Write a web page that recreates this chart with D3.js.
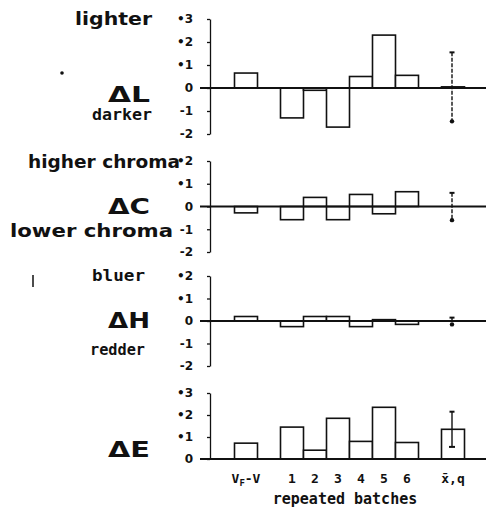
<!DOCTYPE html>
<html><head><meta charset="utf-8">
<script src="https://cdn.jsdelivr.net/npm/d3@7"></script>
<style>
html,body{margin:0;padding:0;background:#fff;}
svg{display:block;}
</style></head>
<body>
<svg id="chart" width="486" height="512"></svg>
<script>
// ---- data ----
const categories = ["VF-V","1","2","3","4","5","6","x̄,q"];
const deltaL = [0.65,-1.3,-0.1,-1.7,0.5,2.3,0.55,0.05];
const deltaC = [-0.28,-0.58,0.4,-0.58,0.53,-0.32,0.65,0.0];
const deltaH = [0.2,-0.25,0.2,0.2,-0.25,0.06,-0.15,0.0];
const deltaE = [0.72,1.45,0.4,1.85,0.8,2.35,0.75,1.35];
const spreadQ = [1.5,0.6,0.15,0.8];          // q of the mean (last category)
const ticksL = [3,2,1,0,-1,-2];
const ticksC = [2,1,0,-1,-2];
const ticksH = [2,1,0,-1,-2];
const ticksE = [3,2,1,0];
const panelNames = ["ΔL","ΔC","ΔH","ΔE"];
const upperLabels = ["lighter","higher chroma","bluer",""];
const lowerLabels = ["darker","lower chroma","redder",""];
const xTitle = "repeated batches";

// ---- layout ----
const svg = d3.select("#chart");
const axisX = 210;
const ink = "#111";
const slots = [categories[0],"_s1",...categories.slice(1,7),"_s2",categories[7]];
const x = d3.scaleBand().domain(slots).range([234.5,464.5]).padding(0);

const panels = [
  {name:panelNames[0], vals:deltaL, ticks:ticksL, dom:[-2,3], rng:[134,19], q:spreadQ[0], up:upperLabels[0], low:lowerLabels[0], nameY:102, upY:25, lowY:120, upX:152, lowX:152, upFont:"hand", lowFont:"mono", upW:77, lowW:60, capBottom:false},
  {name:panelNames[1], vals:deltaC, ticks:ticksC, dom:[-2,2], rng:[252,161], q:spreadQ[1], up:upperLabels[1], low:lowerLabels[1], nameY:214, upY:168, lowY:237, upX:180, lowX:173, upFont:"hand", lowFont:"hand", upW:152, lowW:163, capBottom:false},
  {name:panelNames[2], vals:deltaH, ticks:ticksH, dom:[-2,2], rng:[366,276], q:spreadQ[2], up:upperLabels[2], low:lowerLabels[2], nameY:328, upY:281, lowY:355, upX:145, lowX:145, upFont:"mono", lowFont:"mono", upW:53, lowW:55, capBottom:false},
  {name:panelNames[3], vals:deltaE, ticks:ticksE, dom:[0,3], rng:[459,393], q:spreadQ[3], up:"", low:"", nameY:457, capBottom:true}
];

const fmt = v => v === 0 ? "0" : (v > 0 ? "•" + v : "-" + Math.abs(v));

panels.forEach((p, pi) => {
  const y = d3.scaleLinear().domain(p.dom).range(p.rng);
  const g = svg.append("g");

  const ax = g.append("g").attr("transform", `translate(${axisX},0)`)
    .call(d3.axisLeft(y).tickValues(p.ticks).tickFormat(fmt).tickSize(3).tickSizeOuter(0));
  ax.select(".domain").attr("stroke", ink).attr("stroke-width", 1.3);
  ax.selectAll(".tick line").attr("stroke", ink).attr("stroke-width", 1.3);
  ax.selectAll(".tick text").attr("x", -17).attr("fill", ink)
    .attr("font-family", "DejaVu Sans, sans-serif").attr("font-weight", "bold").attr("font-size", 12);

  g.selectAll("rect.bar").data(p.vals).join("rect").attr("class","bar")
    .attr("x", (d,i) => x(categories[i]))
    .attr("width", x.bandwidth())
    .attr("y", d => y(Math.max(0,d)))
    .attr("height", d => Math.abs(y(d) - y(0)))
    .attr("fill", "#fff").attr("stroke", ink).attr("stroke-width", 1.6);

  g.append("line").attr("x1", 200).attr("x2", 486).attr("y1", y(0)).attr("y2", y(0))
    .attr("stroke", ink).attr("stroke-width", 2);

  const m = p.vals[p.vals.length-1];
  const cx = x(categories[categories.length-1]) + x.bandwidth()/2 - 1;
  g.append("line").attr("x1", cx).attr("x2", cx).attr("y1", y(m + p.q)).attr("y2", y(m - p.q))
    .attr("stroke", ink).attr("stroke-width", 1.4).attr("stroke-dasharray", pi===3 ? null : "4,1.5");
  g.append("line").attr("x1", cx-2.5).attr("x2", cx+2.5).attr("y1", y(m + p.q)).attr("y2", y(m + p.q))
    .attr("stroke", ink).attr("stroke-width", 2);
  if (p.capBottom) {
    g.append("line").attr("x1", cx-3).attr("x2", cx+3).attr("y1", y(m - p.q)).attr("y2", y(m - p.q))
      .attr("stroke", ink).attr("stroke-width", 2);
  } else {
    g.append("circle").attr("cx", cx).attr("cy", y(m - p.q)).attr("r", 2.2).attr("fill", ink);
  }

  g.append("text").attr("x", 129).attr("y", p.nameY).attr("text-anchor","middle")
    .attr("font-family","DejaVu Sans, sans-serif").attr("font-weight","bold").attr("font-size", 22)
    .attr("textLength", 42).attr("lengthAdjust","spacingAndGlyphs").attr("fill", ink).text(p.name);

  const fam = f => f === "mono" ? "DejaVu Sans Mono, monospace" : "DejaVu Sans, sans-serif";
  const lab = (txt, xx, yy, f, w) => g.append("text").attr("x", xx - w).attr("y", yy)
    .attr("font-family", fam(f)).attr("font-weight","bold")
    .attr("font-size", f==="mono" ? 15 : 17).attr("fill", ink)
    .attr("textLength", w).attr("lengthAdjust","spacingAndGlyphs").text(txt);
  if (p.up) lab(p.up, p.upX, p.upY, p.upFont, p.upW);
  if (p.low) lab(p.low, p.lowX, p.lowY, p.lowFont, p.lowW);

  if (pi === 3) {
    const xl = svg.append("g").attr("font-family","DejaVu Sans Mono, monospace")
      .attr("font-weight","bold").attr("font-size", 13).attr("fill", ink);
    categories.forEach((c,i) => {
      const t = xl.append("text").attr("x", x(c) + x.bandwidth()/2).attr("y", 483).attr("text-anchor","middle");
      if (c === "VF-V") {
        t.append("tspan").text("V");
        t.append("tspan").attr("font-size", 9).attr("dy", 3).text("F");
        t.append("tspan").attr("dy", -3).text("-V");
      } else t.text(c);
    });
    xl.append("text").attr("x", 345).attr("y", 504).attr("text-anchor","middle")
      .attr("font-size", 15).text(xTitle);
  }
});

svg.append("circle").attr("cx", 62).attr("cy", 73).attr("r", 1.8).attr("fill", ink);
svg.append("line").attr("x1", 33).attr("x2", 33).attr("y1", 275).attr("y2", 287).attr("stroke", ink).attr("stroke-width", 1.5);
</script>
</body></html>
